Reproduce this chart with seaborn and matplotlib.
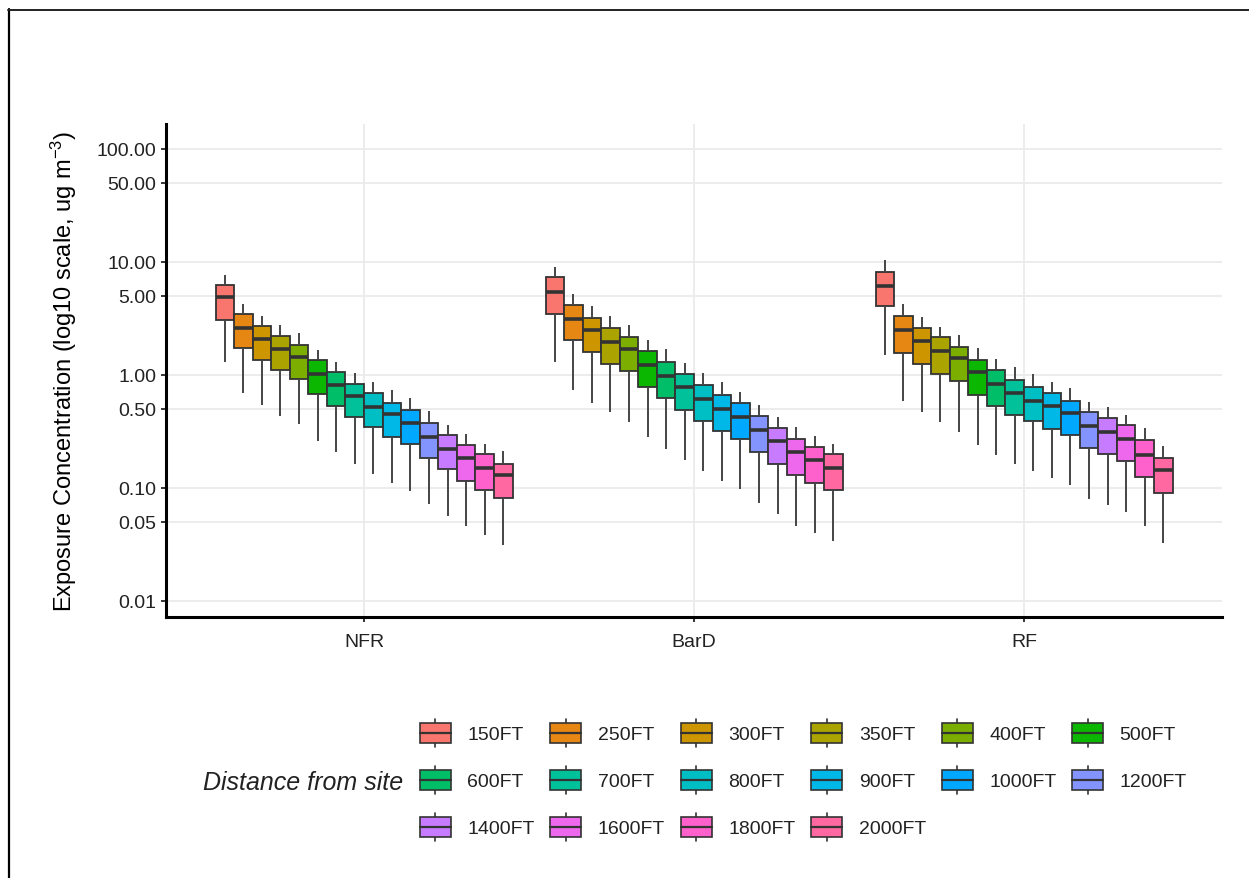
import numpy as np
import pandas as pd
import matplotlib
matplotlib.use("Agg")
import matplotlib.pyplot as plt
from matplotlib.lines import Line2D
from matplotlib.patches import Patch, Rectangle
from matplotlib.legend_handler import HandlerBase
import seaborn as sns

# ---------------- data ----------------
sites = ["NFR", "BarD", "RF"]
distances = ["150FT", "250FT", "300FT", "350FT", "400FT", "500FT", "600FT", "700FT",
             "800FT", "900FT", "1000FT", "1200FT", "1400FT", "1600FT", "1800FT", "2000FT"]
colors = ["#F8766D", "#E68613", "#CD9600", "#ABA300", "#7CAE00", "#0CB702", "#00BE67", "#00C19A",
          "#00BFC4", "#00B8E7", "#00A9FF", "#8494FF", "#C77CFF", "#ED68ED", "#FF61CC", "#FF68A1"]

nfr_low = [1.29, 0.693, 0.546, 0.437, 0.371, 0.261, 0.206, 0.163, 0.134, 0.110, 0.0947, 0.0717, 0.0569, 0.0464, 0.0384, 0.0315]
nfr_q1 = [3.09, 1.72, 1.36, 1.11, 0.915, 0.675, 0.532, 0.422, 0.347, 0.283, 0.243, 0.186, 0.147, 0.115, 0.0953, 0.0816]
nfr_med = [4.87, 2.59, 2.07, 1.70, 1.45, 1.03, 0.810, 0.652, 0.525, 0.449, 0.374, 0.281, 0.221, 0.183, 0.150, 0.129]
nfr_q3 = [6.30, 3.44, 2.73, 2.23, 1.84, 1.35, 1.06, 0.838, 0.693, 0.569, 0.487, 0.374, 0.294, 0.242, 0.199, 0.163]
nfr_high = [7.73, 4.25, 3.35, 2.77, 2.35, 1.68, 1.31, 1.04, 0.861, 0.732, 0.626, 0.477, 0.363, 0.299, 0.245, 0.211]

bard_low = [1.29, 0.742, 0.565, 0.467, 0.381, 0.281, 0.221, 0.176, 0.140, 0.115, 0.098, 0.0742, 0.0589, 0.0464, 0.0400, 0.0340]
bard_q1 = [3.46, 2.03, 1.59, 1.24, 1.08, 0.788, 0.622, 0.487, 0.389, 0.319, 0.273, 0.207, 0.164, 0.129, 0.111, 0.0953]
bard_med = [5.46, 3.15, 2.50, 1.96, 1.70, 1.23, 0.980, 0.788, 0.609, 0.500, 0.428, 0.326, 0.259, 0.207, 0.175, 0.149]
bard_q3 = [7.32, 4.19, 3.17, 2.62, 2.15, 1.64, 1.29, 1.03, 0.816, 0.670, 0.569, 0.437, 0.342, 0.271, 0.232, 0.199]
bard_high = [8.97, 5.21, 4.11, 3.35, 2.77, 2.05, 1.70, 1.27, 1.04, 0.861, 0.712, 0.543, 0.428, 0.349, 0.289, 0.245]

rf_low = [1.51, 0.593, 0.467, 0.381, 0.315, 0.240, 0.197, 0.163, 0.140, 0.123, 0.106, 0.0799, 0.0712, 0.0609, 0.0464, 0.0326]
rf_q1 = [4.05, 1.58, 1.25, 1.03, 0.879, 0.670, 0.528, 0.440, 0.389, 0.331, 0.296, 0.226, 0.200, 0.172, 0.125, 0.0903]
rf_med = [6.18, 2.52, 1.99, 1.62, 1.41, 1.06, 0.838, 0.693, 0.589, 0.532, 0.464, 0.354, 0.315, 0.271, 0.197, 0.144]
rf_q3 = [8.21, 3.33, 2.62, 2.15, 1.78, 1.35, 1.11, 0.909, 0.788, 0.698, 0.593, 0.467, 0.416, 0.359, 0.264, 0.184]
rf_high = [10.4, 4.25, 3.24, 2.68, 2.27, 1.73, 1.38, 1.17, 1.01, 0.861, 0.762, 0.581, 0.517, 0.446, 0.337, 0.237]

ytick_values = [0.01, 0.05, 0.10, 0.50, 1.00, 5.00, 10.00, 50.00, 100.00]
ytick_labels = ["0.01", "0.05", "0.10", "0.50", "1.00", "5.00", "10.00", "50.00", "100.00"]

# ---------------- long-form table ----------------
site_stats = {
    "NFR": [nfr_low, nfr_q1, nfr_med, nfr_q3, nfr_high],
    "BarD": [bard_low, bard_q1, bard_med, bard_q3, bard_high],
    "RF": [rf_low, rf_q1, rf_med, rf_q3, rf_high],
}
rows = []
for s in sites:
    for i, d in enumerate(distances):
        for arr in site_stats[s]:
            rows.append({"site": s, "distance": d, "value": arr[i]})
df = pd.DataFrame(rows)

# ---------------- style ----------------
sns.set_theme(style="white")
plt.rcParams["font.family"] = ["Liberation Sans", "DejaVu Sans"]
plt.rcParams["mathtext.default"] = "regular"

fig = plt.figure(figsize=(12.49, 8.79), dpi=100)
ax = fig.add_axes([166 / 1249, 1 - 618 / 879, (1222 - 166) / 1249, (618 - 125) / 879])
ax.set_yscale("log")

LC = "#333333"
sns.boxplot(data=df, x="site", y="value", hue="distance", order=sites, hue_order=distances,
            palette=colors, saturation=1, width=0.9, gap=0, whis=(0, 100),
            linecolor=LC, linewidth=1.3, fliersize=0, legend=False, ax=ax,
            showcaps=False, medianprops=dict(linewidth=2.6, color=LC),
            whiskerprops=dict(linewidth=1.4, color="#444444"))

ax.set_yscale("log")
ax.set_ylim(10 ** (-2.142), 10 ** 2.221)
ax.set_xlim(-0.6, 2.6)
ax.yaxis.set_major_locator(matplotlib.ticker.FixedLocator(ytick_values))
ax.yaxis.set_major_formatter(matplotlib.ticker.FixedFormatter(ytick_labels))
ax.yaxis.set_minor_locator(matplotlib.ticker.NullLocator())

ax.set_axisbelow(True)
ax.grid(True, axis="both", which="major", color="#EBEBEB", linewidth=1.3)

for sp in ["top", "right"]:
    ax.spines[sp].set_visible(False)
for sp in ["left", "bottom"]:
    ax.spines[sp].set_color("black")
    ax.spines[sp].set_linewidth(2.2)

ax.tick_params(axis="both", which="major", direction="out", length=3.5, width=1.1,
               color="black", labelsize=14, labelcolor="#222222", left=True, bottom=True)
ax.tick_params(axis="x", pad=8)
ax.tick_params(axis="y", pad=3.5)

ax.set_xlabel("")
ax.set_ylabel("Exposure Concentration (log10 scale, ug m$^{-3}$)", fontsize=17, color="black")
ax.yaxis.set_label_coords(-0.082, 0.5)

# ---------------- legend ----------------
class BoxHandler(HandlerBase):
    def create_artists(self, legend, orig_handle, xdescent, ydescent, width, height, fontsize, trans):
        fc = orig_handle.get_facecolor()
        x0, y0 = -xdescent, -ydescent
        wh = Line2D([x0 + width / 2, x0 + width / 2], [y0, y0 + height], color=LC, lw=1.2, transform=trans)
        box = Rectangle((x0, y0 + 0.15 * height), width, 0.70 * height, facecolor=fc,
                        edgecolor=LC, lw=1.2, transform=trans)
        med = Line2D([x0, x0 + width], [y0 + height / 2, y0 + height / 2], color=LC, lw=1.6, transform=trans)
        return [wh, box, med]

handles = [Patch(facecolor=c, label=d) for c, d in zip(colors, distances)]
ncol, nrow = 6, 3
order = []
for c in range(ncol):
    for r in range(nrow):
        k = r * ncol + c
        if k < len(handles):
            order.append(k)
leg = fig.legend([handles[k] for k in order], [distances[k] for k in order],
                 ncol=ncol, loc="center left", bbox_to_anchor=(410 / 1249, 1 - 781 / 879),
                 frameon=False, borderpad=0, handlelength=1.6, handleheight=1.8,
                 handletextpad=0.85, columnspacing=0.8, labelspacing=1.0,
                 prop={"size": 14}, handler_map={Patch: BoxHandler()})
for t in leg.get_texts():
    t.set_color("#222222")

fig.text(403 / 1249, 1 - 783 / 879, "Distance from site", ha="right", va="center",
         fontsize=18, style="italic", color="#222222")

# outer border (left and top edges as in the screenshot)
fig.add_artist(Line2D([8.5 / 1249, 8.5 / 1249], [0, 1 - 10 / 879], color="black", lw=1.6,
                      transform=fig.transFigure))
fig.add_artist(Line2D([8 / 1249, 1], [1 - 10.5 / 879, 1 - 10.5 / 879], color="#222222", lw=1.4,
                      transform=fig.transFigure))

fig.savefig("out.png", dpi=100)
